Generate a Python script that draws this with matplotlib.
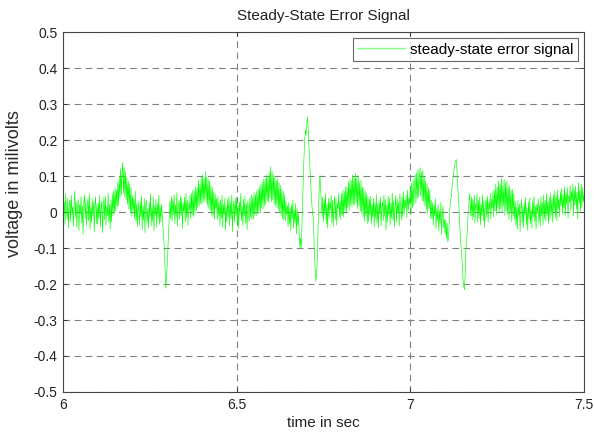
import numpy as np
import matplotlib
matplotlib.use("Agg")
import matplotlib.pyplot as plt

plt.rcParams['font.family'] = ['Liberation Sans', 'DejaVu Sans']

# Steady-state error samples (mV), 2 ms apart, from t = 6.0 s to t = 7.5 s
t_start, t_end = 6.0, 7.5
error_mv = [
    # 6.0 - 6.1 s
    0.041, -0.012, 0.028, -0.034, 0.052, 0.006, -0.021, 0.037, -0.045, 0.019,
    0.033, -0.027, 0.046, -0.008, 0.015, -0.039, 0.024, 0.058, -0.016, 0.029,
    -0.043, 0.011, 0.035, -0.052, 0.021, -0.006, 0.044, -0.031, 0.017, -0.062,
    0.026, 0.048, -0.019, 0.032, -0.037, 0.009, 0.039, -0.024, 0.051, -0.048,
    0.014, -0.029, 0.036, -0.011, 0.027, -0.056, 0.018, 0.043, -0.033, 0.022,
    # 6.1 - 6.2 s
    -0.034, 0.025, -0.018, 0.047, -0.041, 0.013, 0.031, -0.057, 0.008, 0.039,
    -0.022, 0.044, -0.036, 0.017, -0.011, 0.053, -0.028, 0.021, -0.047, 0.034,
    -0.028, 0.051, -0.011, 0.058, -0.004, 0.067, 0.003, 0.062, 0.014, 0.083,
    0.018, 0.097, 0.039, 0.121, 0.047, 0.109, 0.138, 0.052, 0.124, 0.041,
    0.113, 0.034, 0.098, 0.021, 0.086, 0.007, 0.079, -0.004, 0.068, -0.012,
    # 6.2 - 6.3 s
    0.046, 0.004, 0.037, -0.019, 0.058, -0.026, 0.023, -0.041, 0.032, 0.007,
    -0.036, 0.028, -0.013, 0.045, -0.049, 0.016, -0.022, 0.038, -0.057, 0.019,
    0.034, -0.031, 0.009, -0.044, 0.027, -0.015, 0.051, -0.038, 0.012, -0.026,
    0.041, -0.053, 0.018, -0.009, 0.036, -0.042, 0.024, -0.017, 0.047, -0.034,
    0.015, -0.028, 0.022, -0.012, -0.043, -0.066, -0.108, -0.157, -0.212, -0.186,
    # 6.3 - 6.4 s
    -0.148, -0.102, -0.054, -0.011, 0.029, -0.018, 0.043, -0.025, 0.036, -0.007,
    0.048, -0.032, 0.021, -0.014, 0.054, -0.039, 0.017, 0.031, -0.021, 0.045,
    -0.009, 0.038, -0.046, 0.026, -0.003, 0.041, -0.028, 0.052, -0.016, 0.033,
    -0.037, 0.024, 0.006, 0.047, -0.019, 0.052, -0.008, 0.061, -0.014, 0.058,
    -0.006, 0.071, 0.004, 0.068, 0.012, 0.089, 0.016, 0.077, 0.024, 0.096,
    # 6.4 - 6.5 s
    0.021, 0.104, 0.029, 0.094, 0.036, 0.112, 0.027, 0.098, 0.018, 0.091,
    0.009, 0.087, 0.004, 0.073, -0.008, 0.069, -0.014, 0.058, -0.021, 0.052,
    0.009, 0.038, -0.021, 0.043, -0.012, 0.029, -0.037, 0.034, -0.018, 0.047,
    -0.043, 0.021, -0.008, 0.039, -0.051, 0.016, -0.027, 0.035, -0.014, 0.044,
    -0.039, 0.026, -0.019, 0.048, -0.055, 0.012, 0.031, -0.029, 0.037, -0.011,
    # 6.5 - 6.6 s
    0.041, -0.033, 0.019, -0.046, 0.028, -0.007, 0.052, -0.024, 0.015, -0.038,
    0.036, -0.012, 0.044, -0.031, 0.023, -0.049, 0.031, 0.004, -0.026, 0.039,
    -0.015, 0.047, -0.022, 0.041, -0.019, 0.054, -0.009, 0.049, -0.012, 0.058,
    -0.006, 0.064, 0.002, 0.071, -0.004, 0.078, 0.011, 0.083, 0.008, 0.091,
    0.017, 0.094, 0.022, 0.102, 0.031, 0.097, 0.026, 0.109, 0.038, 0.126,
    # 6.6 - 6.7 s
    0.029, 0.114, 0.034, 0.104, 0.021, 0.097, 0.018, 0.088, 0.012, 0.093,
    0.006, 0.082, -0.002, 0.074, -0.011, 0.063, -0.019, 0.058, -0.024, 0.049,
    -0.024, 0.031, -0.008, 0.018, -0.041, 0.026, -0.033, 0.012, -0.052, 0.021,
    -0.018, 0.034, -0.046, 0.006, -0.029, 0.024, -0.061, 0.009, -0.038, -0.004,
    -0.058, -0.098, -0.071, -0.102, -0.032, 0.041, 0.098, 0.157, 0.201, 0.228,
    # 6.7 - 6.8 s
    0.214, 0.248, 0.265, 0.231, 0.183, 0.142, 0.101, 0.062, 0.028, 0.003,
    -0.012, -0.058, -0.118, -0.161, -0.192, -0.174, -0.131, -0.063, 0.017, 0.072,
    0.101, 0.058, 0.029, -0.014, 0.042, -0.027, 0.036, -0.008, 0.051, -0.033,
    0.022, -0.045, 0.039, -0.016, 0.028, 0.006, 0.047, -0.029, 0.033, -0.041,
    0.018, 0.044, -0.021, 0.037, -0.036, 0.025, 0.009, 0.052, -0.014, 0.031,
    # 6.8 - 6.9 s
    -0.021, 0.052, -0.009, 0.061, -0.013, 0.057, 0.002, 0.071, -0.004, 0.069,
    0.011, 0.084, 0.006, 0.091, 0.019, 0.087, 0.014, 0.103, 0.022, 0.096,
    0.018, 0.108, 0.027, 0.094, 0.009, 0.101, 0.016, 0.083, 0.002, 0.088,
    -0.004, 0.071, -0.014, 0.066, -0.026, 0.058, -0.011, 0.052, -0.032, 0.044,
    -0.027, 0.036, -0.009, 0.044, -0.034, 0.021, -0.016, 0.038, -0.042, 0.027,
    # 6.9 - 7.0 s
    -0.018, 0.049, -0.031, 0.022, -0.045, 0.033, -0.006, 0.041, -0.038, 0.016,
    0.029, -0.024, 0.047, -0.012, 0.035, -0.051, 0.019, -0.028, 0.044, -0.009,
    0.038, -0.036, 0.025, -0.017, 0.053, -0.022, 0.031, -0.041, 0.014, 0.046,
    -0.029, 0.037, -0.004, 0.028, -0.039, 0.051, 0.011, -0.023, 0.042, -0.013,
    0.056, -0.007, 0.034, 0.012, 0.048, -0.016, 0.061, 0.004, 0.039, 0.023,
    # 7.0 - 7.1 s
    0.071, -0.003, 0.082, 0.011, 0.089, 0.018, 0.076, 0.104, 0.024, 0.109,
    0.036, 0.118, 0.042, 0.097, 0.123, 0.044, 0.111, 0.031, 0.116, 0.029,
    0.098, 0.017, 0.087, 0.006, 0.079, -0.004, 0.068, 0.009, 0.062, -0.018,
    0.033, -0.018, 0.026, -0.037, 0.019, -0.011, 0.038, -0.046, 0.009, -0.024,
    0.021, -0.053, 0.004, -0.031, 0.027, -0.062, -0.008, 0.016, -0.044, -0.019,
    # 7.1 - 7.2 s
    -0.061, -0.022, -0.074, -0.031, -0.083, -0.068, -0.029, 0.012, 0.034, 0.042,
    0.071, 0.088, 0.103, 0.118, 0.131, 0.139, 0.146, 0.121, 0.082, 0.041,
    0.014, -0.032, -0.071, -0.098, -0.121, -0.158, -0.192, -0.209, -0.216, -0.168,
    -0.101, -0.088, -0.047, -0.009, 0.012, 0.051, 0.028, -0.011, 0.043, -0.022,
    0.036, -0.014, 0.047, -0.031, 0.024, 0.006, 0.051, -0.027, 0.033, -0.018,
    # 7.2 - 7.3 s
    0.042, -0.036, 0.021, -0.009, 0.049, -0.024, 0.031, -0.043, 0.017, 0.038,
    -0.015, 0.044, -0.028, 0.027, 0.006, 0.052, -0.019, 0.036, 0.011, 0.058,
    -0.014, 0.061, 0.002, 0.078, -0.008, 0.069, 0.012, 0.086, -0.003, 0.079,
    0.009, 0.094, -0.002, 0.073, 0.016, 0.091, -0.009, 0.082, 0.004, 0.087,
    -0.006, 0.068, -0.021, 0.074, -0.002, 0.061, -0.027, 0.063, -0.011, 0.052,
    # 7.3 - 7.4 s
    -0.021, 0.029, -0.038, 0.014, -0.047, 0.033, -0.012, 0.021, -0.054, 0.009,
    0.036, -0.029, 0.017, -0.043, 0.025, -0.008, 0.041, -0.036, 0.012, -0.051,
    0.028, -0.019, 0.039, -0.033, 0.006, -0.045, 0.031, -0.014, 0.044, -0.027,
    0.016, -0.048, 0.023, -0.004, 0.037, -0.031, 0.019, -0.039, 0.042, -0.011,
    0.027, -0.036, 0.048, -0.018, 0.033, -0.025, 0.051, -0.009, 0.029, -0.032,
    # 7.4 - 7.5 s
    0.041, -0.022, 0.053, -0.007, 0.036, -0.029, 0.048, 0.002, 0.059, -0.016,
    0.044, -0.024, 0.062, 0.009, 0.038, -0.013, 0.057, 0.017, 0.066, -0.006,
    0.049, 0.011, 0.071, -0.009, 0.054, 0.021, 0.068, -0.017, 0.046, 0.026,
    0.074, 0.004, 0.058, 0.031, 0.079, -0.011, 0.063, 0.019, 0.072, 0.008,
    0.056, -0.019, 0.083, 0.024, 0.061, 0.002, 0.077, 0.013, 0.069, 0.029,
    0.046,
]

x_ticks = [6, 6.5, 7, 7.5]
x_tick_labels = ["6", "6.5", "7", "7.5"]
y_ticks = [-0.5, -0.4, -0.3, -0.2, -0.1, 0, 0.1, 0.2, 0.3, 0.4, 0.5]
y_tick_labels = ["-0.5", "-0.4", "-0.3", "-0.2", "-0.1", "0",
                 "0.1", "0.2", "0.3", "0.4", "0.5"]

time_s = np.linspace(t_start, t_end, len(error_mv))

fig = plt.figure(figsize=(5.94, 4.33), dpi=100)
ax = fig.add_axes([0.106, 0.0947, 0.8772, 0.8313])

ax.plot(time_s, error_mv, color="#00ff00", lw=0.45, label="steady-state error signal")

ax.set_xlim(t_start, t_end)
ax.set_ylim(-0.5, 0.5)
ax.set_xticks(x_ticks)
ax.set_xticklabels(x_tick_labels)
ax.set_yticks(y_ticks)
ax.set_yticklabels(y_tick_labels)

ax.grid(True, color="#808080", linestyle=(0, (6, 4)), linewidth=0.8)
ax.tick_params(direction="in", length=3, width=0.6, top=True, right=True,
               labelsize=10, colors="#222222", pad=4)
for sp in ax.spines.values():
    sp.set_color("#444444")
    sp.set_linewidth(0.8)

ax.set_title("Steady-State Error Signal", fontsize=11, color="#222222", pad=9)
ax.set_xlabel("time in sec", fontsize=11, color="#222222", labelpad=3)
ax.set_ylabel("voltage in milivolts", fontsize=13, color="#2a2a2a")
ax.yaxis.set_label_coords(-0.0762, 0.578)

leg = ax.legend(loc="upper right", bbox_to_anchor=(0.9885, 0.9833),
                borderaxespad=0, fontsize=11, frameon=True, fancybox=False,
                handlelength=3.1, handletextpad=0.35, borderpad=0.3)
leg.get_frame().set_edgecolor("#444444")
leg.get_frame().set_linewidth(0.8)
for line in leg.get_lines():
    line.set_linewidth(1.0)
    line.set_color("#80ff80")

fig.savefig("out.png", dpi=100)
